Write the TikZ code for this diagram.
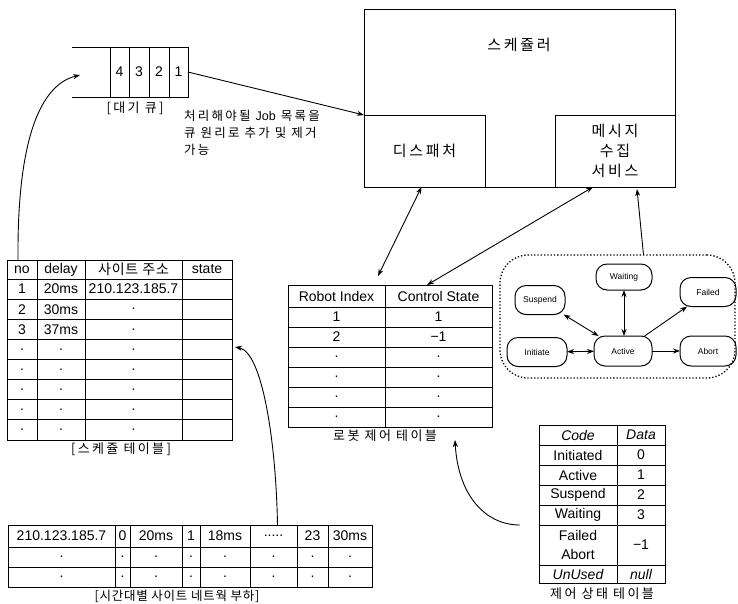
\documentclass[tikz,border=0pt]{standalone}
\usepackage{fontspec}
\setmainfont{Liberation Sans}
\newfontfamily\kr[LetterSpace=18]{Noto Sans CJK KR}
\newfontfamily\krn[LetterSpace=6]{Noto Sans CJK KR}
\usetikzlibrary{arrows.meta,calc}
\newcommand\dt{.}
\newcommand\dtfive{.....}
\newcommand\mktable[4]{%
 \foreach \rw [count=\r from 0] in {#4} {
   \foreach \tx [count=\c from 0] in \rw {
     \pgfmathsetmacro\xa{{#2}[\c]}
     \pgfmathsetmacro\xb{{#2}[\c+1]}
     \pgfmathsetmacro\ya{{#3}[\r]}
     \pgfmathsetmacro\yb{{#3}[\r+1]}
     \node[tcell, minimum width=\xb-\xa, minimum height=\yb-\ya] (#1-\r-\c) at ({(\xa+\xb)/2},{(\ya+\yb)/2}) {\tx};
   }
 }}
\begin{document}
\begin{tikzpicture}[x=1pt,y=-1pt,
  every node/.style={inner sep=0pt, outer sep=0pt},
  tcell/.style={draw, line width=0.9pt, align=center, font=\fontsize{14}{19}\selectfont},
  box/.style={draw, line width=1pt},
  state/.style={draw, line width=1pt, rounded corners=11pt, minimum width=56, minimum height=29, font=\fontsize{8.5}{10}\selectfont},
  con/.style={line width=0.9pt, -{Stealth[length=7pt,width=5pt]}},
  dcon/.style={line width=0.9pt, {Stealth[length=7pt,width=5pt]}-{Stealth[length=7pt,width=5pt]}},
  krlab/.style={font=\kr\fontsize{13}{15}\selectfont},
  krbig/.style={font=\kr\fontsize{15}{20}\selectfont}
]
\useasboundingbox (0,0) rectangle (738,603);

% ---- queue
\draw[box] (72,47) -- (188,47);
\draw[box] (72,97) -- (188,97);
\foreach \n/\xa/\xb in {4/110/129,3/129/149,2/149/169,1/169/188}
  \node[tcell, minimum width=\xb-\xa, minimum height=50] (q\n) at ({(\xa+\xb)/2},72) {\n};
\node[krlab] (qlab) at (135,108) {[대기 큐]};
\coordinate (qin) at (80,75);
\node[anchor=north west, align=left, font=\kr\fontsize{12.5}{17}\selectfont] (note) at (184,110)
  {처리해야될 {\rmfamily Job} 목록을\\큐 원리로 추가 및 제거\\가능};

% ---- scheduler
\node[box, minimum width=311, minimum height=178] (sched) at (519.5,98) {};
\node[krbig] (schedt) at (519,45) {스케쥴러};
\node[box, krbig, minimum width=121, minimum height=72] (disp) at (424.5,151) {디스패처};
\node[box, krbig, align=center, minimum width=120, minimum height=72] (msg) at (615,151) {메시지\\수집\\서비스};
\draw[con] (q1.east) -- (disp.north west);

% ---- schedule table
\mktable{sch}{7,37,85,182,232}{260,279,299.1,319.3,339.4,359.5,379.6,399.8,419.9,440}
 {{no,delay,{\krn 사이트 주소},state},{1,20ms,210.123.185.7,{}},{2,30ms,\dt,{}},{3,37ms,\dt,{}},
  {\dt,\dt,\dt,{}},{\dt,\dt,\dt,{}},{\dt,\dt,\dt,{}},{\dt,\dt,\dt,{}},{\dt,\dt,\dt,{}}}
\node[krlab] (schlab) at (121,449) {[스케쥴 테이블]};

% ---- robot table
\mktable{rbt}{288,385,492}{285,307,327,347,367,387,407,427}
 {{Robot Index,Control State},{1,1},{2,−1},{\dt,\dt},{\dt,\dt},{\dt,\dt},{\dt,\dt}}
\node[krlab] (rbtlab) at (385,436) {로봇 제어 테이블};

% ---- control state table
\mktable{csd}{539,617,665}{425,445,465,485,505,525,565,583}
 {{\itshape Code,\itshape Data},{Initiated,0},{Active,1},{Suspend,2},{Waiting,3},{Failed\\Abort,−1},{\itshape UnUsed,\itshape null}}
\node[krlab] (csdlab) at (602,594) {제어 상태 테이블};

% ---- site network table
\mktable{net}{8,115,130,182,200,250,297,328,372}{525,547,567,587}
 {{210.123.185.7,0,20ms,1,18ms,\dtfive,23,30ms},{\dt,\dt,\dt,\dt,\dt,\dt,\dt,\dt},{\dt,\dt,\dt,\dt,\dt,\dt,\dt,\dt}}
\node[font=\krn\fontsize{12.5}{14}\selectfont] (netlab) at (177,596) {[시간대별 사이트 네트웍 부하]};

% ---- state machine
\node[draw, dotted, line width=1.3pt, rounded corners=28pt, minimum width=235, minimum height=123] (dots) at (617.5,316.5) {};
\node[state, minimum height=26] (wait) at (624,277) {Waiting};
\node[state, minimum width=50] (susp) at (540,300) {Suspend};
\node[state] (fail) at (708,292) {Failed};
\node[state, minimum width=60] (init) at (537,352) {Initiate};
\node[state, minimum width=58, minimum height=30] (act) at (623,351) {Active};
\node[state, minimum height=30] (abort) at (708,351) {Abort};
\draw[dcon] (init) -- (act);
\draw[dcon] (susp) -- (act);
\draw[dcon] (wait.south) -- (wait.south |- act.north);
\draw[con] (act) -- (fail);
\draw[con] (act) -- (abort);

% ---- connectors
\coordinate (r1) at (378,276);
\draw[dcon] ($(disp.south)+(-3,0)$) -- (r1);
\draw[dcon] ($(rbt-0-1.north west)+(42,0)$) -- ($(msg.south)+(-22,0)$);
\draw[con] ($(dots.north)+(26,0)$) -- ($(msg.south)+(22,2)$);
\draw[con] ($(sch-0-0.north)+(-4,0)$) .. controls (17,140) and (40,85) .. (qin);
\coordinate (schin) at (235,347);
\draw[con] ($(net-0-5.north)+(4,0)$) .. controls (276,440) and (262,352) .. (schin);
\coordinate (csdout) at (520,525);
\coordinate (rbtin) at (455,440);
\draw[con] (csdout) .. controls (485,525) and (458,495) .. (rbtin);
\end{tikzpicture}
\end{document}
